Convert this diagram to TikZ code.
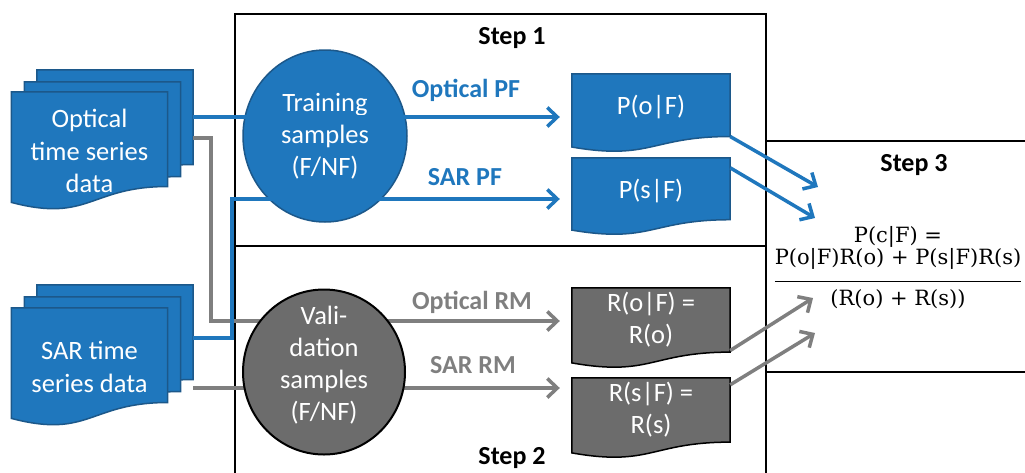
\documentclass[tikz,border=0pt]{standalone}
\usepackage{amsmath}
\usepackage[no-math]{fontspec}
\setmainfont{Carlito}
\newfontfamily\formfont{DejaVu Serif}
\usetikzlibrary{arrows.meta,calc,positioning,shapes.geometric}

\pgfdeclarelayer{fondo}
\pgfsetlayers{fondo,main}

\definecolor{azul}{RGB}{31,119,189}
\definecolor{azulborde}{RGB}{28,88,138}
\definecolor{gris}{RGB}{127,127,127}
\definecolor{grisoscuro}{RGB}{108,108,108}

\tikzset{
  paso/.style={draw=black,line width=2.2pt},
  titulo/.style={font=\fontsize{26}{30}\selectfont\bfseries},
  hoja/.style={inner sep=0pt,align=center,text=white,minimum width=156pt,minimum height=118pt,font=\fontsize{26.5}{32.5}\selectfont},
  resultado/.style={hoja,minimum width=158pt},
  muestra/.style={ellipse,inner sep=0pt,align=center,text=white,font=\fontsize{26.5}{32}\selectfont},
  muestratexto/.style={align=center,text=white,font=\fontsize{26.5}{32}\selectfont},
  flechaazul/.style={draw=azul,line width=3.5pt,-{Straight Barb[length=10pt,width=19pt]}},
  flechagris/.style={flechaazul,draw=gris},
  etiqueta/.style={font=\fontsize{26}{30}\selectfont\bfseries},
  formula/.style={inner sep=0pt,font=\formfont\fontsize{21}{21}\selectfont}
}

%hoja con el borde de abajo ondulado: nodo, relleno, borde
\newcommand{\hoja}[3]{%
  \begin{pgfonlayer}{fondo}
  \path[fill=#2,draw=#3,line width=1.5pt]
    (#1.north west) -- (#1.north east) -- ($(#1.north east)!0.8!(#1.south east)$)
    .. controls ($(#1.north)!0.8!(#1.south)$) and ($(#1.north)!1.108!(#1.south)$)
    .. ($(#1.north west)!0.934!(#1.south west)$) -- cycle;
  \end{pgfonlayer}}

\begin{document}
\begin{tikzpicture}[x=1pt,y=-1pt]
\useasboundingbox (0,0) rectangle (1025,472);

%cajas de los pasos
\draw[paso] (235,14) rectangle (766,246);
\draw[paso] (235,246) rectangle (766,490);
\draw[paso] (766,141) rectangle (1040,372);
\node[titulo] (paso1) at (512,38) {Step 1};
\node[titulo] (paso2) at (512,458) {Step 2};
\node[titulo] (paso3) at (914,165) {Step 3};

%pila de datos opticos
\node[hoja] (optback) at (115,129) {};
\node[hoja] (optmid) at (102.5,141) {};
\node[hoja] (opt) at (89.5,151) {Optical\\time series\\data};
\hoja{optback}{azul}{azulborde}
\hoja{optmid}{azul}{azulborde}
\hoja{opt}{azul}{azulborde}

%pila de datos SAR
\node[hoja] (sarback) at (115,344) {};
\node[hoja] (sarmid) at (102.5,356) {};
\node[hoja] (sar) at (89.5,367) {SAR time\\series data};
\hoja{sarback}{azul}{azulborde}
\hoja{sarmid}{azul}{azulborde}
\hoja{sar}{azul}{azulborde}

%resultados de los pasos 1 y 2
\node[resultado,minimum height=78pt,text depth=16pt] (pof) at (651,113) {P(o|F)};
\node[resultado,minimum height=77pt,text depth=16pt] (psf) at (651,196.5) {P(s|F)};
\node[resultado,minimum height=80pt,text depth=20pt] (rof) at (651,328) {R(o|F) =\\R(o)};
\node[resultado,minimum height=80pt,text depth=20pt] (rsf) at (651,418) {R(s|F) =\\R(s)};
\hoja{pof}{azul}{azulborde}
\hoja{psf}{azul}{azulborde}
\hoja{rof}{grisoscuro}{black}
\hoja{rsf}{grisoscuro}{black}

%lineas grises (por debajo de las muestras)
\draw[flechagris,shorten >=12pt] ($(optback.east)+(0,9)$) -- ++(18,0) |- ($(rof.west)+(0,-7)$);
\draw[flechagris,shorten >=12pt] ($(sarback.east)+(0,44)$) -- ($(rsf.west)+(0,-30)$);

%muestras
\node[muestra,fill=azul,draw=azulborde,line width=1.5pt,minimum width=164pt,minimum height=172pt] (train) at (325,136) {Training\\samples\\(F/NF)};
\node[muestra,fill=grisoscuro,draw=black,line width=2pt,minimum width=162pt,minimum height=165pt,
  label={[muestratexto,yshift=7pt]center:Vali-\\dation\\samples\\(F/NF)}] (valid) at (324,372) {};

%lineas azules
\draw[flechaazul,shorten >=12pt] ($(optback.east)+(0,-12)$) -- ($(pof.west)+(0,4)$);
\draw[flechaazul,shorten >=12pt] ($(sarback.east)+(0,-6)$) -- ++(39,0) |- ($(psf.west)+(0,2.5)$);

%etiquetas de las flechas
\node[etiqueta,text=azul] (optpf) at (466,90) {Optical PF};
\node[etiqueta,text=azul] (sarpf) at (465,177) {SAR PF};
\node[etiqueta,text=gris] (optrm) at (472,302) {Optical RM};
\node[etiqueta,text=gris] (sarrm) at (473,365) {SAR RM};

%flechas hacia el paso 3
\coordinate (llega1) at (818,187);
\coordinate (llega2) at (815,218);
\coordinate (llega3) at (813,298);
\coordinate (llega4) at (815,333);
\draw[flechaazul] ($(pof.north east)!0.8!(pof.south east)$) -- (llega1);
\draw[flechaazul] ($(psf.north east)+(0,10)$) -- (llega2);
\draw[flechagris] ($(rof.north east)!0.78!(rof.south east)$) -- (llega3);
\draw[flechagris] ($(rsf.north east)+(0,7)$) -- (llega4);

%formula del paso 3
\setlength{\arrayrulewidth}{1.3pt}
\node[formula] (formula) at (898,269) {\begin{tabular}{@{}c@{}}
  P(c|F) =\\
  P(o|F)R(o) + P(s|F)R(s)\\[10pt]\hline
  \rule{0pt}{23pt}(R(o) + R(s))
\end{tabular}};
\end{tikzpicture}
\end{document}
